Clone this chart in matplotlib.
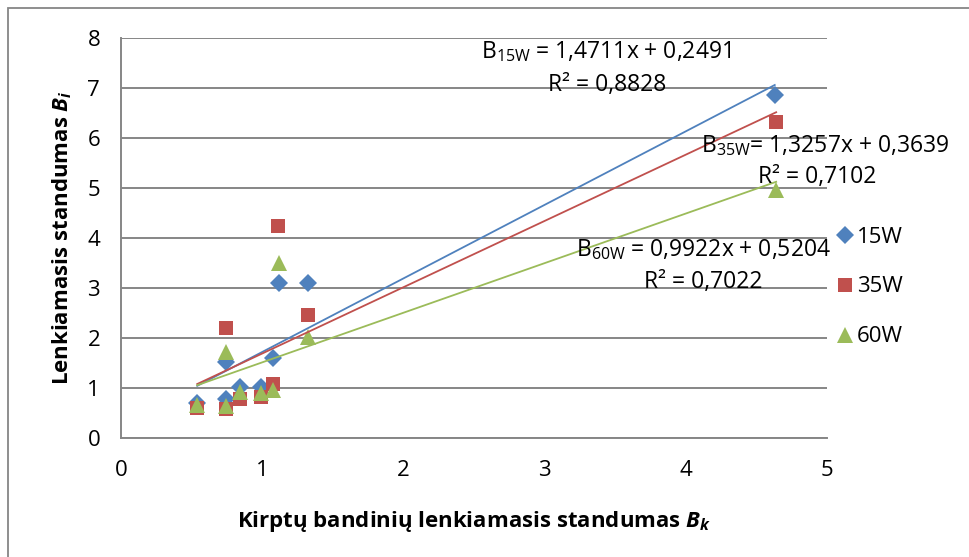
import numpy as np
import matplotlib.pyplot as plt
from matplotlib.patches import Rectangle

plt.rcParams['font.family'] = ['Open Sans', 'DejaVu Sans']
plt.rcParams['mathtext.fontset'] = 'custom'
plt.rcParams['mathtext.rm'] = 'Open Sans'
plt.rcParams['mathtext.it'] = 'Open Sans:italic'
plt.rcParams['mathtext.bf'] = 'Open Sans:bold'
plt.rcParams['mathtext.bfit'] = 'Open Sans:italic:bold'

# Bk of the cut samples and Bi for each power setting
bk_15w = [0.54, 0.744, 0.744, 0.843, 0.99, 1.079, 1.117, 1.324, 4.63]
bi_15w = [0.70, 1.53, 0.78, 1.02, 1.02, 1.61, 3.11, 3.11, 6.86]
bk_35w = [0.54, 0.744, 0.744, 0.843, 0.99, 1.079, 1.114, 1.324, 4.64]
bi_35w = [0.60, 2.20, 0.59, 0.78, 0.83, 1.08, 4.23, 2.46, 6.32]
bk_60w = [0.54, 0.744, 0.744, 0.843, 0.99, 1.079, 1.117, 1.324, 4.64]
bi_60w = [0.67, 1.73, 0.65, 0.93, 0.91, 0.96, 3.51, 2.03, 4.96]

# linear trendlines: slope, intercept, R^2
fit_15w = (1.4711, 0.2491, 0.8828)
fit_35w = (1.3257, 0.3639, 0.7102)
fit_60w = (0.9922, 0.5204, 0.7022)

series = [
    ("15W", bk_15w, bi_15w, fit_15w, "#4F81BD", "D", 9.5),
    ("35W", bk_35w, bi_35w, fit_35w, "#C0504D", "s", 10.5),
    ("60W", bk_60w, bi_60w, fit_60w, "#9BBB59", "^", 11.5),
]

FS = 16
EQ_FS = 16.5

fig = plt.figure(figsize=(9.7, 5.57), dpi=100)
ax = fig.add_axes([121 / 970, 1 - 438 / 557, 706 / 970, 400 / 557])

for name, x, y, fit, col, mk, ms in series:
    ax.plot(x, y, linestyle="none", marker=mk, markersize=ms, color=col,
            markeredgewidth=0, label=name, zorder=3)
for name, x, y, fit, col, mk, ms in series:
    xs = np.array([min(x), max(x)])
    ax.plot(xs, fit[0] * xs + fit[1], color=col, lw=1.3, zorder=4)

ax.set_xlim(0, 5)
ax.set_ylim(0, 8)
ax.set_xticks(range(6))
ax.set_yticks(range(9))
ax.grid(axis="y", color="#868686", lw=1.4)
ax.set_axisbelow(True)
for s in ["top", "right"]:
    ax.spines[s].set_visible(False)
for s in ["left", "bottom"]:
    ax.spines[s].set_color("#868686")
    ax.spines[s].set_linewidth(1.4)
ax.tick_params(axis="x", length=0, pad=16, labelsize=FS)
ax.tick_params(axis="y", length=0, pad=15, labelsize=FS)

ax.set_xlabel(r"Kirptų bandinių lenkiamasis standumas $\mathbfit{B}_{\mathbfit{k}}$",
              fontsize=FS, fontweight="bold", labelpad=20)
ax.set_ylabel(r"Lenkiamasis standumas $\mathbfit{B}_{\mathbfit{i}}$",
              fontsize=FS, fontweight="bold", labelpad=10)


def fmt(v):
    return f"{v:.4f}".replace(".", ",")


eq_pos = [(606, 52, 607, 85, "B$_{\\mathrm{15W}}$ = "),
          (825, 146, 817, 177, "B$_{\\mathrm{35W}}$= "),
          (703, 250, 703, 282, "B$_{\\mathrm{60W}}$ = ")]
for (name, x, y, fit, col, mk, ms), (ex, ey, rx, ry, lead) in zip(series, eq_pos):
    fig.text(ex / 970, 1 - ey / 557, f"{lead}{fmt(fit[0])}x + {fmt(fit[1])}",
             ha="center", va="center", fontsize=EQ_FS)
    fig.text(rx / 970, 1 - ry / 557, f"R² = {fmt(fit[2])}",
             ha="center", va="center", fontsize=EQ_FS)

ax.legend(loc="center left", bbox_to_anchor=(818 / 970, 1 - 287 / 557),
          bbox_transform=fig.transFigure, frameon=False, fontsize=FS,
          handlelength=0.6, handletextpad=0.25, labelspacing=1.3)

fig.patches.append(Rectangle((8 / 970, -0.1), 1.2, 1.1 - 8 / 557,
                             transform=fig.transFigure, fill=False,
                             edgecolor="#868686", lw=1.3))

fig.savefig("out.png", dpi=100)
